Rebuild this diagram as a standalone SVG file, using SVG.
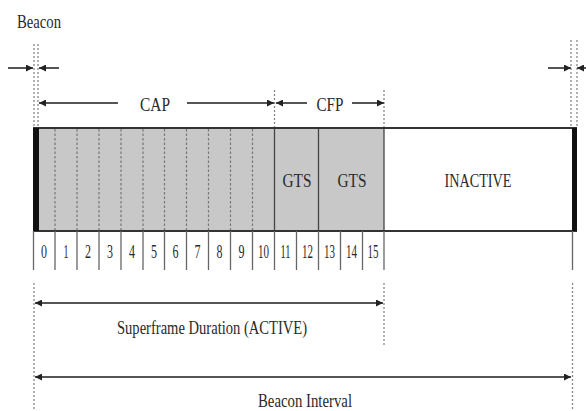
<svg xmlns="http://www.w3.org/2000/svg" width="586" height="411" viewBox="0 0 586 411">
<defs>
<marker id="ah" viewBox="0 0 10 10" refX="10" refY="5" markerWidth="7" markerHeight="7" markerUnits="userSpaceOnUse" orient="auto-start-reverse">
<path d="M0,0 L10,5 L0,10 z" fill="#222"/>
</marker>
<style>
text{font-family:"Liberation Serif","Times New Roman",serif;fill:#2a2a2a;font-size:19px;text-anchor:middle}
.num{font-size:18px}
.arr{stroke:#555;stroke-width:2;fill:none}
.dot{stroke:#888;stroke-width:1.3;stroke-dasharray:2,2;fill:none}
.dash{stroke:#777;stroke-width:1.2;stroke-dasharray:2.5,2;fill:none}
.solid{stroke:#444;stroke-width:1.3;fill:none}
.cell{stroke:#666;stroke-width:1.3;fill:none}
</style>
</defs>
<rect width="586" height="411" fill="#fff"/>

<g id="superframe">
<rect x="33" y="128" width="351" height="103" fill="#c8c8c8"/>
<rect x="384" y="128" width="188" height="103" fill="#fff"/>
<line x1="33" y1="128" x2="577" y2="128" stroke="#333" stroke-width="1.8"/>
<line x1="33" y1="231" x2="577" y2="231" stroke="#333" stroke-width="1.8"/>
<rect x="33" y="128" width="6" height="103" fill="#111"/>
<rect x="572" y="128" width="5" height="103" fill="#111"/>
<g class="dash">
<line x1="55" y1="129" x2="55" y2="230"/>
<line x1="77" y1="129" x2="77" y2="230"/>
<line x1="99" y1="129" x2="99" y2="230"/>
<line x1="121" y1="129" x2="121" y2="230"/>
<line x1="143" y1="129" x2="143" y2="230"/>
<line x1="164.5" y1="129" x2="164.5" y2="230"/>
<line x1="186.5" y1="129" x2="186.5" y2="230"/>
<line x1="208.5" y1="129" x2="208.5" y2="230"/>
<line x1="230.5" y1="129" x2="230.5" y2="230"/>
<line x1="252.5" y1="129" x2="252.5" y2="230"/>
</g>
<g class="solid">
<line x1="274.5" y1="129" x2="274.5" y2="230"/>
<line x1="318.5" y1="129" x2="318.5" y2="230"/>
<line x1="384" y1="129" x2="384" y2="230"/>
</g>
</g>

<g id="slot-labels">
<g class="cell">
<line x1="33.5" y1="231" x2="33.5" y2="270"/>
<line x1="55" y1="231" x2="55" y2="270"/>
<line x1="77" y1="231" x2="77" y2="270"/>
<line x1="99" y1="231" x2="99" y2="270"/>
<line x1="121" y1="231" x2="121" y2="270"/>
<line x1="143" y1="231" x2="143" y2="270"/>
<line x1="164.5" y1="231" x2="164.5" y2="270"/>
<line x1="186.5" y1="231" x2="186.5" y2="270"/>
<line x1="208.5" y1="231" x2="208.5" y2="270"/>
<line x1="230.5" y1="231" x2="230.5" y2="270"/>
<line x1="252.5" y1="231" x2="252.5" y2="270"/>
<line x1="274.5" y1="231" x2="274.5" y2="270"/>
<line x1="296.5" y1="231" x2="296.5" y2="270"/>
<line x1="318.5" y1="231" x2="318.5" y2="270"/>
<line x1="340.5" y1="231" x2="340.5" y2="270"/>
<line x1="362.5" y1="231" x2="362.5" y2="270"/>
<line x1="384" y1="231" x2="384" y2="270"/>
<line x1="572.5" y1="231" x2="572.5" y2="270"/>
</g>
<text class="num" x="44" y="258" textLength="6" lengthAdjust="spacingAndGlyphs">0</text>
<text class="num" x="66" y="258" textLength="5" lengthAdjust="spacingAndGlyphs">1</text>
<text class="num" x="88" y="258" textLength="6" lengthAdjust="spacingAndGlyphs">2</text>
<text class="num" x="110" y="258" textLength="6" lengthAdjust="spacingAndGlyphs">3</text>
<text class="num" x="132" y="258" textLength="6" lengthAdjust="spacingAndGlyphs">4</text>
<text class="num" x="154" y="258" textLength="6" lengthAdjust="spacingAndGlyphs">5</text>
<text class="num" x="175.5" y="258" textLength="6" lengthAdjust="spacingAndGlyphs">6</text>
<text class="num" x="197.5" y="258" textLength="6" lengthAdjust="spacingAndGlyphs">7</text>
<text class="num" x="219.5" y="258" textLength="6" lengthAdjust="spacingAndGlyphs">8</text>
<text class="num" x="241.5" y="258" textLength="6" lengthAdjust="spacingAndGlyphs">9</text>
<text class="num" x="263.5" y="258" textLength="11" lengthAdjust="spacingAndGlyphs">10</text>
<text class="num" x="285.5" y="258" textLength="10" lengthAdjust="spacingAndGlyphs">11</text>
<text class="num" x="307.5" y="258" textLength="11" lengthAdjust="spacingAndGlyphs">12</text>
<text class="num" x="329.5" y="258" textLength="11" lengthAdjust="spacingAndGlyphs">13</text>
<text class="num" x="351.5" y="258" textLength="11" lengthAdjust="spacingAndGlyphs">14</text>
<text class="num" x="373" y="258" textLength="11" lengthAdjust="spacingAndGlyphs">15</text>
</g>

<g id="gts1"><text x="297" y="187" textLength="29" lengthAdjust="spacingAndGlyphs">GTS</text></g>
<g id="gts2"><text x="352" y="187" textLength="29" lengthAdjust="spacingAndGlyphs">GTS</text></g>
<g id="inactive"><text x="478" y="187" textLength="67" lengthAdjust="spacingAndGlyphs">INACTIVE</text></g>

<g id="beacon-label"><text x="39" y="28" font-size="17" textLength="44" lengthAdjust="spacingAndGlyphs">Beacon</text></g>
<g id="cap-label"><text x="155" y="111" textLength="30" lengthAdjust="spacingAndGlyphs">CAP</text></g>
<g id="cfp-label"><text x="330" y="111" textLength="27" lengthAdjust="spacingAndGlyphs">CFP</text></g>
<g id="superframe-label"><text x="212" y="334" textLength="190" lengthAdjust="spacingAndGlyphs">Superframe Duration (ACTIVE)</text></g>
<g id="interval-label"><text x="305" y="407" textLength="94" lengthAdjust="spacingAndGlyphs">Beacon Interval</text></g>

<g id="connectors">
<g class="dot">
<line x1="34" y1="44" x2="34" y2="127"/>
<line x1="38" y1="44" x2="38" y2="127"/>
<line x1="571" y1="40" x2="571" y2="127"/>
<line x1="577" y1="40" x2="577" y2="127"/>
<line x1="274.5" y1="90" x2="274.5" y2="127"/>
<line x1="384" y1="90" x2="384" y2="127"/>
<line x1="34" y1="283" x2="34" y2="411"/>
<line x1="384" y1="283" x2="384" y2="345"/>
<line x1="572.5" y1="283" x2="572.5" y2="411"/>
</g>
<g class="arr">
<line x1="8" y1="68" x2="33" y2="68" marker-end="url(#ah)"/>
<line x1="59" y1="68" x2="39" y2="68" marker-end="url(#ah)"/>
<line x1="548" y1="68" x2="571" y2="68" marker-end="url(#ah)"/>
<line x1="586" y1="68" x2="577" y2="68" marker-end="url(#ah)"/>
<line x1="118" y1="103" x2="39" y2="103" marker-end="url(#ah)"/>
<line x1="187" y1="103" x2="274" y2="103" marker-end="url(#ah)"/>
<line x1="307" y1="103" x2="276" y2="103" marker-end="url(#ah)"/>
<line x1="352" y1="103" x2="384" y2="103" marker-end="url(#ah)"/>
<line x1="35" y1="303" x2="383" y2="303" marker-start="url(#ah)" marker-end="url(#ah)"/>
<line x1="35" y1="377" x2="571" y2="377" marker-start="url(#ah)" marker-end="url(#ah)"/>
</g>
</g>
</svg>
